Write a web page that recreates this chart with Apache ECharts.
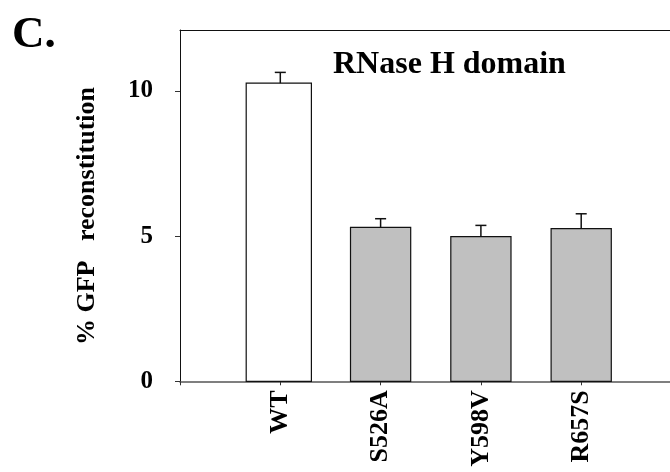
<!DOCTYPE html>
<html><head><meta charset="utf-8">
<script src="https://cdn.jsdelivr.net/npm/echarts@6/dist/echarts.min.js"></script>
<style>html,body{margin:0;padding:0;background:#fff}#c{width:670px;height:472px}</style>
</head><body><div id="c"></div>
<script>
const categories = ['WT', 'S526A', 'Y598V', 'R657S'];
const positions = [1, 2, 3, 4];
const values = [10.27, 5.30, 4.98, 5.26];
const errors = [0.37, 0.30, 0.39, 0.51];
const yTicks = [0, 5, 10];
const panelLabel = 'C.';
const titleText = 'RNase H domain';
const yName = '% GFP   reconstitution';

const FONT = '"Liberation Serif", "Times New Roman", serif';
const chart = echarts.init(document.getElementById('c'), null, {renderer: 'canvas'});

const barData = positions.map((p, i) => [p, values[i], errors[i], i]);

chart.setOption({
  animation: false,
  backgroundColor: '#fff',
  grid: {left: 180, top: 30, height: 351.3, width: 501.5, containLabel: false, outerBoundsMode: 'none'},
  xAxis: [{
    type: 'value', min: 0, max: 5, interval: 1, position: 'bottom',
    axisLine: {show: true, lineStyle: {color: '#555', width: 1.5}},
    axisTick: {show: true, length: 4, lineStyle: {color: '#333', width: 1}},
    axisLabel: {
      show: true, customValues: positions, rotate: 90, margin: 9,
      formatter: v => categories[positions.indexOf(v)] || '',
      color: '#000', fontFamily: FONT, fontWeight: 'bold', fontSize: 26
    },
    splitLine: {show: false}
  }, {
    type: 'value', min: 0, max: 5, position: 'top',
    axisLine: {show: true, onZero: false, lineStyle: {color: '#111', width: 1}},
    axisTick: {show: false}, axisLabel: {show: false}, splitLine: {show: false}
  }],
  yAxis: {
    type: 'value', min: 0, max: 12.1, interval: 5,
    axisLine: {show: true, lineStyle: {color: '#111', width: 1}},
    axisTick: {show: true, customValues: yTicks, length: 5, lineStyle: {color: '#333', width: 1}},
    axisLabel: {
      show: true, customValues: yTicks, margin: 27,
      color: '#000', fontFamily: FONT, fontWeight: 'bold', fontSize: 25
    },
    splitLine: {show: false}
  },
  graphic: [
    {type: 'text', x: 12, y: 35, style: {text: panelLabel, font: 'bold 45px ' + FONT, fill: '#000', textAlign: 'left', textVerticalAlign: 'middle'}},
    {type: 'text', x: 333, y: 65, style: {text: titleText, font: 'bold 32px ' + FONT, fill: '#000', textAlign: 'left', textVerticalAlign: 'middle'}},
    {type: 'text', x: 87, y: 216, rotation: Math.PI / 2, style: {text: yName, font: 'bold 26px ' + FONT, fill: '#000', textAlign: 'center', textVerticalAlign: 'middle'}}
  ],
  series: [{
    type: 'custom',
    data: barData,
    clip: false,
    renderItem: function (params, api) {
      const x = api.value(0), v = api.value(1), e = api.value(2), idx = api.value(3);
      const isWT = idx === 0;
      const w = api.size([isWT ? 0.65 : 0.6, 0])[0];
      const base = api.coord([x, 0]);
      const top = api.coord([x, v]);
      const et = api.coord([x, v + e]);
      const cap = api.size([0.11, 0])[0];
      const shift = isWT ? -1.5 : 0;
      return {
        type: 'group',
        children: [
          {type: 'rect', shape: {x: base[0] - w / 2 + shift, y: top[1], width: w, height: base[1] - top[1]},
           style: {fill: isWT ? '#fff' : '#c0c0c0', stroke: '#111', lineWidth: 1.2}},
          {type: 'line', shape: {x1: top[0], y1: top[1], x2: et[0], y2: et[1]},
           style: {stroke: '#111', lineWidth: 1.5}},
          {type: 'line', shape: {x1: et[0] - cap / 2, y1: et[1], x2: et[0] + cap / 2, y2: et[1]},
           style: {stroke: '#111', lineWidth: 1.5}}
        ]
      };
    }
  }]
});
</script></body></html>
